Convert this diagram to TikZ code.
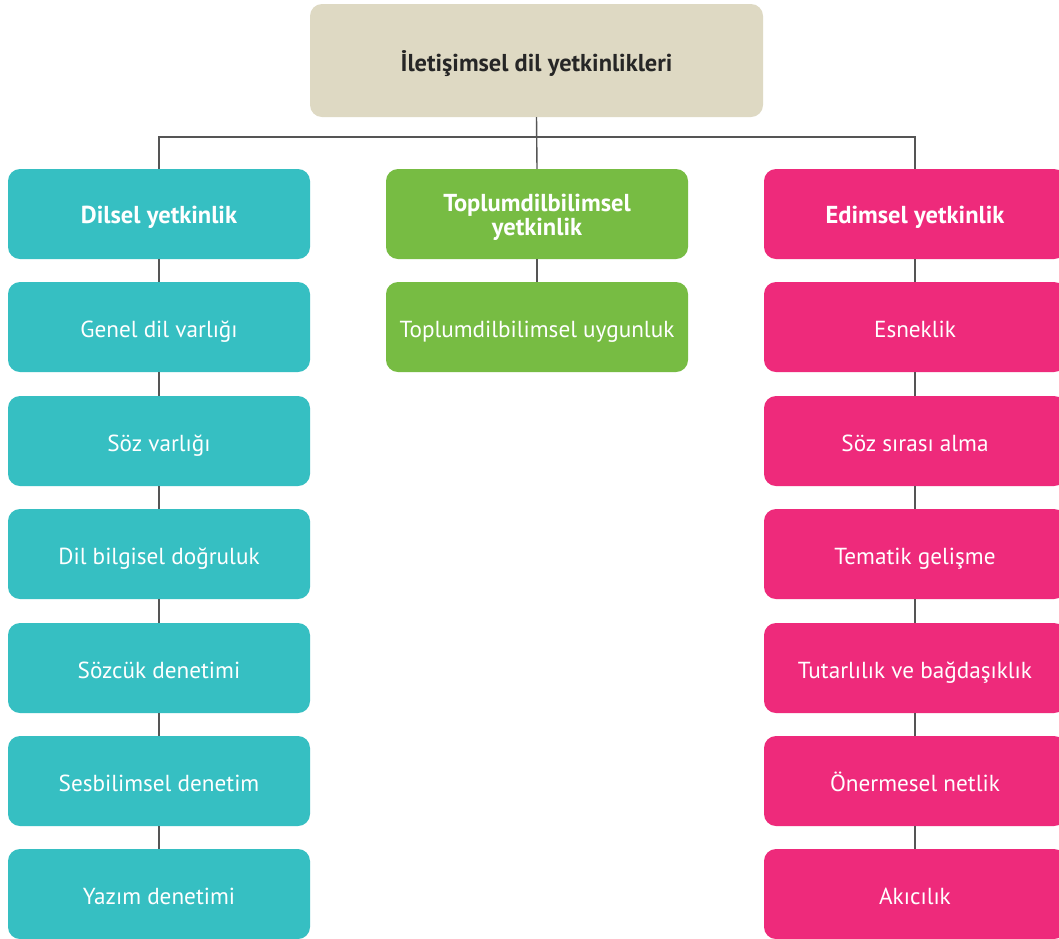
\documentclass[tikz,border=0pt]{standalone}
\usepackage{fontspec}
\setmainfont{PT Sans}
\definecolor{teal1}{HTML}{36BFC2}
\definecolor{green1}{HTML}{77BC43}
\definecolor{pink1}{HTML}{EE2A7B}
\definecolor{beige1}{HTML}{DED9C3}
\definecolor{line1}{HTML}{555555}
\begin{document}
\begin{tikzpicture}[x=1pt,y=-1pt,
  basebox/.style={rectangle,rounded corners=12pt,minimum width=302pt,minimum height=90pt,inner sep=0pt,text=white,align=center},
  box/.style={basebox,font=\fontsize{23.2}{26}\selectfont,text height=20pt,text depth=0pt},
  head/.style={basebox,font=\fontsize{24.5}{24}\selectfont\bfseries,text height=19.5pt,text depth=0pt},
  conn/.style={draw=line1,line width=1.4pt}]
\useasboundingbox (0,0) rectangle (1059,938);
\fill[white] (0,0) rectangle (1059,938);
\node[basebox,fill=beige1,text=black!85,minimum width=453pt,minimum height=113pt,font=\fontsize{24.4}{26}\selectfont\bfseries,text height=22pt,text depth=0pt] (top) at (536.5,60.5) {İletişimsel dil yetkinlikleri};
\coordinate (bus) at (536.5,137);
% left column
\node[head,fill=teal1] (dil) at (159,214) {Dilsel yetkinlik};
\node[box,fill=teal1] (l1) at (159,327) {Genel dil varlığı};
\node[box,fill=teal1] (l2) at (159,441) {Söz varlığı};
\node[box,fill=teal1] (l3) at (159,554) {Dil bilgisel doğruluk};
\node[box,fill=teal1] (l4) at (159,668) {Sözcük denetimi};
\node[box,fill=teal1] (l5) at (159,781) {Sesbilimsel denetim};
\node[box,fill=teal1] (l6) at (159,894) {Yazım denetimi};
% middle column
\node[basebox,fill=green1,font=\fontsize{24.5}{24}\selectfont\bfseries] (top2) at (537,214) {\rule{0pt}{24pt}Toplumdilbilimsel\\yetkinlik};
\node[box,fill=green1] (m1) at (537,327) {Toplumdilbilimsel uygunluk};
% right column
\node[head,fill=pink1] (edim) at (915,214) {Edimsel yetkinlik};
\node[box,fill=pink1] (r1) at (915,327) {Esneklik};
\node[box,fill=pink1] (r2) at (915,441) {Söz sırası alma};
\node[box,fill=pink1] (r3) at (915,554) {Tematik gelişme};
\node[box,fill=pink1] (r4) at (915,668) {Tutarlılık ve bağdaşıklık};
\node[box,fill=pink1] (r5) at (915,781) {Önermesel netlik};
\node[box,fill=pink1] (r6) at (915,894) {Akıcılık};
% connectors
\draw[conn] (top.south) -- (top2.north);
\draw[conn] (dil.north) |- (bus) -| (edim.north);
\draw[conn] (dil.south) -- (l1.north);
\draw[conn] (l1.south) -- (l2.north);
\draw[conn] (l2.south) -- (l3.north);
\draw[conn] (l3.south) -- (l4.north);
\draw[conn] (l4.south) -- (l5.north);
\draw[conn] (l5.south) -- (l6.north);
\draw[conn] (top2.south) -- (m1.north);
\draw[conn] (edim.south) -- (r1.north);
\draw[conn] (r1.south) -- (r2.north);
\draw[conn] (r2.south) -- (r3.north);
\draw[conn] (r3.south) -- (r4.north);
\draw[conn] (r4.south) -- (r5.north);
\draw[conn] (r5.south) -- (r6.north);
\end{tikzpicture}
\end{document}
